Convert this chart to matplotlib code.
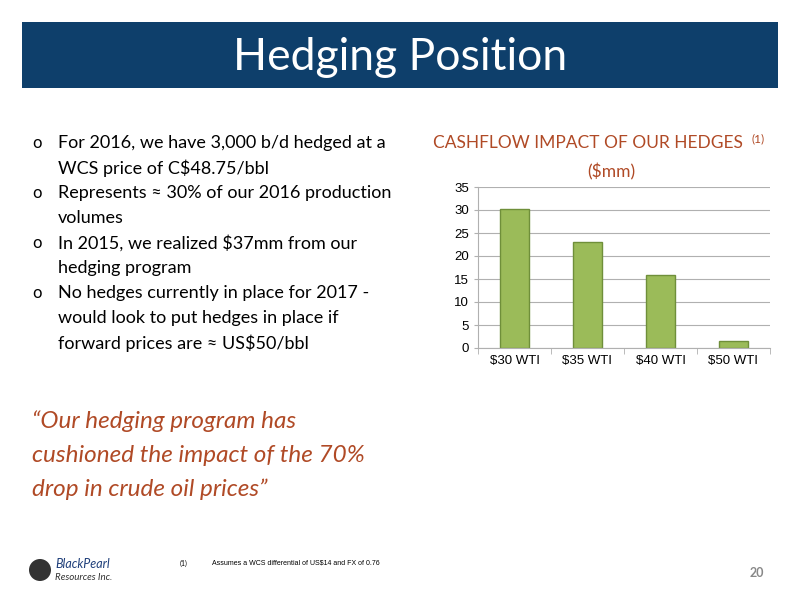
import matplotlib
matplotlib.use("Agg")
import matplotlib.pyplot as plt
from matplotlib.patches import Rectangle, Ellipse

categories = ["$30 WTI", "$35 WTI", "$40 WTI", "$50 WTI"]
values = [30.2, 23.0, 15.8, 1.5]
yticks = [0, 5, 10, 15, 20, 25, 30, 35]

plt.rcParams['font.family'] = ['Lato', 'DejaVu Sans']
fig = plt.figure(figsize=(8, 6), dpi=100)
fig.patch.set_facecolor('white')

fig.patches.append(Rectangle((22/800, 1-88/600), 756/800, 66/600, transform=fig.transFigure,
                             facecolor='#0e3f6b', edgecolor='none'))
fig.text(0.5, 1-57/600, "Hedging Position", color='white', fontsize=32, ha='center', va='center')

bul = [(143, "For 2016, we have 3,000 b/d hedged at a"), (168, "WCS price of C$48.75/bbl"),
       (193, "Represents ≈ 30% of our 2016 production"), (218, "volumes"),
       (243, "In 2015, we realized $37mm from our"), (268, "hedging program"),
       (293, "No hedges currently in place for 2017 -"), (318, "would look to put hedges in place if"),
       (343, "forward prices are ≈ US$50/bbl")]
for i, (y, t) in enumerate(bul):
    if i in (0, 2, 4, 6):
        fig.text(32/800, 1-y/600, "o", fontsize=12, va='center', color='black')
    fig.text(58/800, 1-y/600, t, fontsize=13, va='center', color='black')

quote = ["“Our hedging program has", "cushioned the impact of the 70%", "drop in crude oil prices”"]
for i, t in enumerate(quote):
    fig.text(32/800, 1-(421+34*i)/600, t, fontsize=17.5, style='italic', va='center', color='#b04a26')

fig.text(588/800, 1-143/600, "CASHFLOW IMPACT OF OUR HEDGES", fontsize=12.5, ha='center', va='center', color='#b04a26')
fig.text(752/800, 1-139/600, "(1)", fontsize=8.5, ha='left', va='center', color='#b04a26')
fig.text(611/800, 1-172/600, "($mm)", fontsize=12.5, ha='center', va='center', color='#b04a26')

ax = fig.add_axes([478/800, 1-348/600, 292/800, 161/600])
ax.bar(categories, values, width=0.4, color='#9bbb59', edgecolor='#6f8f3a', linewidth=1)
ax.set_ylim(0, 35)
ax.set_yticks(yticks)
ax.set_xlim(-0.5, 3.5)
ax.yaxis.grid(True, color='#b0b0b0', linewidth=0.8)
ax.set_axisbelow(True)
for s in ['top', 'right']:
    ax.spines[s].set_visible(False)
ax.spines['left'].set_color('#b0b0b0')
ax.spines['bottom'].set_color('#b0b0b0')
ax.tick_params(axis='both', labelsize=9.5, color='#b0b0b0', length=3)
ax.set_xticks([-0.5, 0.5, 1.5, 2.5, 3.5], minor=True)
ax.tick_params(axis='x', which='major', length=0, pad=5)
ax.tick_params(axis='x', which='minor', length=4, color='#b0b0b0')
for l in ax.get_xticklabels() + ax.get_yticklabels():
    l.set_family(['Liberation Sans', 'DejaVu Sans'])

fig.patches.append(Ellipse((40/800, 1-570/600), 22/800, 22/600, transform=fig.transFigure,
                           facecolor='#333333', edgecolor='none'))
fig.text(55/800, 1-564/600, "BlackPearl", fontsize=9, style='italic', color='#1f3f7a', va='center')
fig.text(55/800, 1-577/600, "Resources Inc.", fontsize=7, style='italic', color='#333333', va='center')
fig.text(180/800, 1-563/600, "(1)", fontsize=5, va='center')
fig.text(212/800, 1-563/600, "Assumes a WCS differential of US$14 and FX of 0.76", fontsize=5, va='center',
         family=['Liberation Sans Narrow', 'Liberation Sans'])
fig.text(757/800, 1-573/600, "20", fontsize=9, color='#888888', va='center', ha='center', weight='bold')

fig.savefig("out.png", dpi=100)
